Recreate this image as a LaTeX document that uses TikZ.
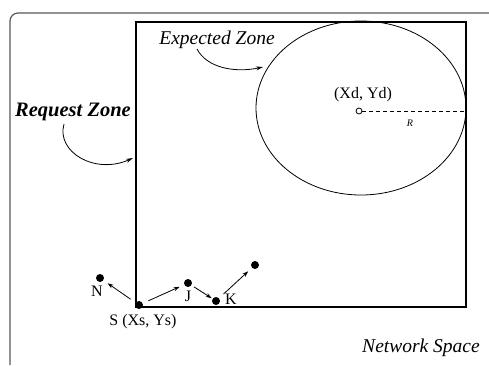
\documentclass[tikz,border=0pt]{standalone}
\usepackage{fontspec}
\setmainfont{Liberation Serif}
\usetikzlibrary{arrows.meta}
\begin{document}
\begin{tikzpicture}[x=1pt,y=-1pt,
  dot/.style={circle,fill=black,inner sep=0pt,minimum size=8pt},
  arr/.style={-{Stealth[length=6pt,width=4pt]},line width=0.8pt,shorten <=6pt,shorten >=5pt},
  curvarr/.style={-{Stealth[length=7pt,width=4pt]},line width=0.8pt},
  lbl/.style={inner sep=0pt,font=\fontsize{16}{18}\selectfont}]
\useasboundingbox (0,0) rectangle (489,365);
\fill[white] (0,0) rectangle (489,365);
% outer network space frame
\draw[gray!70!black,line width=1.2pt,rounded corners=8pt] (10,365) -- (10,13) -- (489,13);
% request zone rectangle
\draw[line width=2.2pt] (136,22) rectangle (466,307);
% expected zone
\draw[line width=0.8pt] (361,108) ellipse [x radius=105, y radius=87];
\node[circle,draw,line width=0.8pt,inner sep=0pt,minimum size=6pt] (D) at (359,111) {};
\coordinate (Redge) at (466,111);
\draw[dashed,line width=0.7pt,dash pattern=on 4pt off 3pt] (D) -- (Redge);
\node[lbl,font=\fontsize{10}{12}\selectfont\itshape] (Rlbl) at (410,123) {R};
\node[lbl] (Dlbl) at (363,95) {(Xd, Yd)};
% labels
\node[lbl,font=\fontsize{20.5}{23}\selectfont\bfseries\itshape] (RZ) at (73,112) {Request Zone};
\node[lbl,font=\fontsize{19.5}{22}\selectfont\itshape] (EZ) at (217,40) {Expected Zone};
\node[lbl,font=\fontsize{19.5}{22}\selectfont\itshape] (NS) at (421,348) {Network Space};
\coordinate (EZs) at (197,49);
\coordinate (EZe) at (263,67);
\draw[curvarr] (EZs) .. controls (207,68) and (235,73) .. (EZe);
\coordinate (RZs) at (64,124);
\coordinate (RZe) at (133,158);
\draw[curvarr] (RZs) .. controls (56,152) and (95,175) .. (RZe);
% nodes
\node[dot] (S) at (139,305) {};
\node[dot] (N) at (100,278) {};
\node[dot] (J) at (188,283) {};
\node[dot] (K) at (216,301) {};
\node[dot] (M) at (255,265) {};
\node[lbl] (Nl) at (97,291) {N};
\node[lbl] (Jl) at (188,296) {J};
\node[lbl] (Kl) at (231,299) {K};
\node[lbl] (Sl) at (143,322) {S (Xs, Ys)};
\draw[arr] (S) -- (N);
\draw[arr] (S) -- (J);
\draw[arr,shorten <=3pt,shorten >=1pt] (J) -- (K);
\draw[arr] (K) -- (M);
\end{tikzpicture}
\end{document}
